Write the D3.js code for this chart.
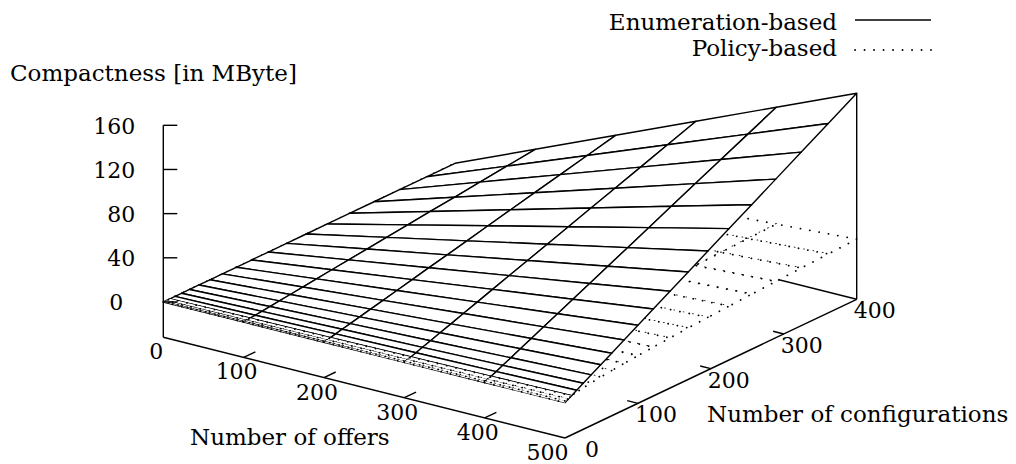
<!DOCTYPE html>
<html><head><meta charset="utf-8">
<script src="https://cdn.jsdelivr.net/npm/d3@7"></script>
<style>
body{margin:0;background:#fff}
text{font-family:"DejaVu Serif",serif;font-size:23px;fill:#000}
text.tick{font-size:22px}
</style>
</head><body>
<svg id="chart" width="1016" height="464"></svg>
<script>
// ---------------- data ----------------
const offers = [0, 100, 200, 300, 400, 500];
const configurations = [0, 1, 4, 9, 16, 25, 36, 49, 64, 81, 100, 121, 144, 169, 196, 225, 256, 289, 324, 361, 400];
// compactness in MByte, one row per number of offers, one value per number of configurations
const enumerationBased = [
  [0,0,0,0,0,0,0,0,0,0,0,0,0,0,0,0,0,0,0,0,0],
  [0,0.1,0.3,0.7,1.2,1.9,2.8,3.8,4.9,6.3,7.7,9.4,11.1,13.1,15.2,17.4,19.8,22.3,25.0,27.9,30.9],
  [0,0.2,0.6,1.4,2.5,3.9,5.6,7.6,9.9,12.5,15.5,18.7,22.3,26.1,30.3,34.8,39.6,44.7,50.1,55.8,61.8],
  [0,0.2,0.9,2.1,3.7,5.8,8.3,11.4,14.8,18.8,23.2,28.1,33.4,39.2,45.5,52.2,59.4,67.0,75.1,83.7,92.8],
  [0,0.3,1.2,2.8,4.9,7.7,11.1,15.2,19.8,25.0,30.9,37.4,44.5,52.3,60.6,69.6,79.2,89.4,100.2,111.6,123.7],
  [0,0.4,1.5,3.5,6.2,9.7,13.9,18.9,24.7,31.3,38.7,46.8,55.7,65.3,75.8,87.0,98.9,111.7,125.2,139.5,154.6]
];
const policyBased = [
  [0,0,0,0,0,0,0,0,0,0,0,0,0,0,0,0,0,0,0,0,0],
  [0,0.2,0.4,0.7,0.9,1.1,1.3,1.6,1.8,2.0,2.2,2.5,2.7,2.9,3.1,3.4,3.6,3.8,4.0,4.3,4.5],
  [0,0.4,0.9,1.3,1.8,2.2,2.7,3.1,3.6,4.0,4.5,4.9,5.4,5.8,6.3,6.7,7.2,7.6,8.1,8.5,9.0],
  [0,0.7,1.3,2.0,2.7,3.4,4.0,4.7,5.4,6.0,6.7,7.4,8.1,8.7,9.4,10.1,10.8,11.4,12.1,12.8,13.4],
  [0,0.9,1.8,2.7,3.6,4.5,5.4,6.3,7.2,8.1,9.0,9.9,10.8,11.6,12.5,13.4,14.3,15.2,16.1,17.0,17.9],
  [0,1.1,2.2,3.4,4.5,5.6,6.7,7.8,9.0,10.1,11.2,12.3,13.4,14.6,15.7,16.8,17.9,19.0,20.2,21.3,22.4]
];
const seriesNames = ["Enumeration-based", "Policy-based"];
const offerTicks = [0, 100, 200, 300, 400, 500];
const configTicks = [0, 100, 200, 300, 400];
const zTicks = [0, 40, 80, 120, 160];
const zTitle = "Compactness [in MByte]";
const offersTitle = "Number of offers";
const configTitle = "Number of configurations";

// ---------------- projection (gnuplot-like view) ----------------
const svg = d3.select("#chart");
const origin = [163.3, 337.3];          // base corner (0 offers, 0 configurations)
const offerVec = [401.7, 100.7];        // screen vector of the full offers range
const configVec = [291.7, -138.7];      // screen vector of the full configurations range
const zBase = -32;
const u = d3.scaleLinear().domain([0, 500]).range([0, 1]);
const v = d3.scaleLinear().domain([0, 400]).range([0, 1]);
const w = d3.scaleLinear().domain([zBase, 160]).range([0, 212]);
function P(o, c, z) {
  return [origin[0] + offerVec[0] * u(o) + configVec[0] * v(c),
          origin[1] + offerVec[1] * u(o) + configVec[1] * v(c) - w(z)];
}
const line = d3.line();
const g = svg.append("g");
const LW = 1.4;
const stroke = {solid: {w: LW, dash: null}, dotted: {w: 1.8, dash: "0.1,9.4"}};

function seg(a, b) {
  g.append("path").attr("d", line([a, b])).attr("fill", "none")
    .attr("stroke", "#000").attr("stroke-width", LW);
}

// back base edge (mostly hidden by the surfaces drawn afterwards)
seg(P(0, 400, zBase), P(500, 400, zBase));

// surfaces: painter's algorithm with white-filled quads (hidden-line look)
const quads = [];
[[enumerationBased, "solid"], [policyBased, "dotted"]].forEach(([Z, style]) => {
  for (let i = 0; i < offers.length - 1; i++) {
    for (let j = 0; j < configurations.length - 1; j++) {
      const o0 = offers[i], o1 = offers[i + 1], c0 = configurations[j], c1 = configurations[j + 1];
      const pts = [P(o0, c0, Z[i][j]), P(o1, c0, Z[i + 1][j]), P(o1, c1, Z[i + 1][j + 1]), P(o0, c1, Z[i][j + 1])];
      const depth = 0.809 * v((c0 + c1) / 2) - 0.588 * u((o0 + o1) / 2);
      const zavg = (Z[i][j] + Z[i + 1][j] + Z[i + 1][j + 1] + Z[i][j + 1]) / 4;
      quads.push({pts, depth, zavg, style});
    }
  }
});
quads.sort((a, b) => (b.depth - a.depth) || (a.zavg - b.zavg));
quads.forEach(q => {
  const s = stroke[q.style];
  g.append("path").attr("d", line(q.pts) + "Z")
    .attr("fill", "#fff").attr("stroke", "#000")
    .attr("stroke-width", s.w)
    .attr("stroke-linejoin", "round")
    .attr("stroke-linecap", q.style === "dotted" ? "round" : "butt")
    .attr("stroke-dasharray", s.dash);
});

// front base edges
seg(P(0, 0, zBase), P(500, 0, zBase));
seg(P(500, 0, zBase), P(500, 400, zBase));
// z axis
seg(P(0, 0, zBase), P(0, 0, 160));
// right vertical up to the surface corner
seg(P(500, 400, zBase), P(500, 400, enumerationBased[5][20]));

// z ticks
zTicks.forEach(t => {
  const p = P(0, 0, t);
  seg(p, [p[0] + 14, p[1]]);
  const dx = t === 0 ? -40 : -28;
  g.append("text").attr("class", "tick").attr("x", p[0] + dx).attr("y", p[1] + 8.5)
    .attr("text-anchor", "end").text(t);
});
// axis directions on the base plane
function dir(a, b) { const L = Math.hypot(b[0] - a[0], b[1] - a[1]); return [(b[0] - a[0]) / L, (b[1] - a[1]) / L]; }
const cdir = dir(P(0, 0, zBase), P(0, 400, zBase));
const odir = dir(P(0, 0, zBase), P(500, 0, zBase));
offerTicks.forEach((t, k) => {
  const p = P(t, 0, zBase);
  if (t > 0 && t < 500) seg(p, [p[0] + 13 * cdir[0], p[1] + 13 * cdir[1]]);
  const dx = (k === offerTicks.length - 1) ? -17.5 : -7;
  g.append("text").attr("class", "tick").attr("x", p[0] + dx).attr("y", p[1] + 22)
    .attr("text-anchor", "middle").text(t);
});
configTicks.forEach((t, k) => {
  const p = P(500, t, zBase);
  if (t > 0 && t < 400) seg(p, [p[0] - 11 * odir[0], p[1] - 11 * odir[1]]);
  const dx = (k === 0) ? 20 : -3;
  g.append("text").attr("class", "tick").attr("x", p[0] + dx).attr("y", p[1] + 19)
    .attr("text-anchor", "start").text(t);
});

// titles
g.append("text").attr("x", 10).attr("y", 81).text(zTitle);
g.append("text").attr("x", 190).attr("y", 445).text(offersTitle);
g.append("text").attr("x", 707).attr("y", 422).text(configTitle);

// legend
const legend = [{name: seriesNames[0], style: "solid", y: 30, ly: 20},
                {name: seriesNames[1], style: "dotted", y: 56, ly: 50}];
legend.forEach(l => {
  g.append("text").attr("x", 837).attr("y", l.y).attr("text-anchor", "end").text(l.name);
  const s = stroke[l.style];
  g.append("path").attr("d", line([[855, l.ly], [931, l.ly]])).attr("fill", "none")
    .attr("stroke", "#000").attr("stroke-width", s.w)
    .attr("stroke-linecap", l.style === "dotted" ? "round" : "butt")
    .attr("stroke-dasharray", s.dash);
});
</script>
</body></html>
